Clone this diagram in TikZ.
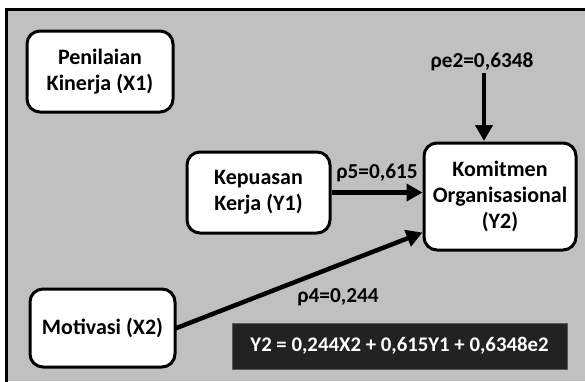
\documentclass[tikz,border=0pt]{standalone}
\usepackage{fontspec}
\setmainfont{Carlito}
\usetikzlibrary{arrows.meta,calc}
\definecolor{bggray}{RGB}{192,192,192}
\definecolor{eqdark}{RGB}{34,34,34}
\begin{document}
\begin{tikzpicture}[x=1pt,y=-1pt,
  vbox/.style={draw=black,line width=3pt,fill=white,rounded corners=13pt,align=center,font=\fontsize{22}{26}\selectfont\bfseries,inner sep=0pt},
  lbl/.style={font=\fontsize{21.3}{26}\selectfont\bfseries,inner sep=0pt},
  conn/.style={line width=4.5pt,-{Triangle[width=17pt,length=16pt]}}]
\useasboundingbox (0,0) rectangle (585,381);
\fill[white] (0,0) rectangle (585,381);
\fill[bggray] (6,9) rectangle (585,381);
\draw[line width=3pt,line cap=rect] (6,381) -- (6,9) -- (585,9);
\node[vbox,minimum width=146pt,minimum height=81pt] (pk) at (100,71.5) {Penilaian\\Kinerja (X1)};
\node[vbox,minimum width=143pt,minimum height=81pt] (kep) at (258.5,192.5) {Kepuasan\\Kerja (Y1)};
\node[vbox,minimum width=152pt,minimum height=107pt] (kom) at (500,196.5) {Komitmen\\Organisasional\\(Y2)};
\node[vbox,minimum width=145pt,minimum height=78pt] (mot) at (102.5,328) {Motivasi (X2)};
\node[fill=eqdark,draw=black!65,line width=1pt,minimum width=335pt,minimum height=46pt,inner sep=0pt,text=white,lbl,font=\fontsize{20.8}{26}\selectfont\bfseries] (eq) at (399.5,346) {Y2 = 0,244X2 + 0,615Y1 + 0,6348e2};
\node[lbl] (e2) at (482,62) {ρe2=0,6348};
\node[lbl] (p5) at (377,173) {ρ5=0,615};
\node[lbl] (p4) at (338,297) {ρ4=0,244};
\coordinate (e2top) at (484,73);
\coordinate (komtop) at (484,141);
\draw[conn] (e2top) -- (komtop);
\draw[conn] (kep.east) -- (kep.east -| kom.west);
\coordinate (komin) at ($(kom.west)+(0,36)$);
\draw[conn,shorten <=-1pt] (mot.east) -- (komin);
\end{tikzpicture}
\end{document}
